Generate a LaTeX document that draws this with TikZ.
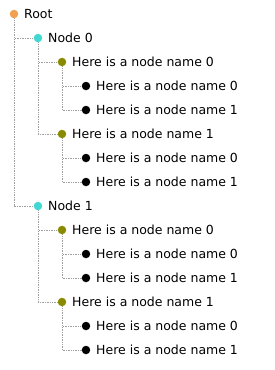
\documentclass[tikz,border=0pt]{standalone}
\usepackage{fontspec}
\setmainfont{DejaVu Sans}
\usetikzlibrary{positioning}
\definecolor{rootcol}{HTML}{F0A050}
\definecolor{nodecol}{HTML}{40D8D0}
\definecolor{subcol}{HTML}{8A8A00}
\tikzset{
    dot/.style={circle, inner sep=0pt, minimum size=8.5pt},
    rootdot/.style={dot, fill=rootcol},
    nodedot/.style={dot, fill=nodecol},
    subdot/.style={dot, fill=subcol},
    leafdot/.style={dot, fill=black},
    txt/.style={anchor=base west, inner sep=0pt, font=\fontsize{12.5}{14}\selectfont, text=black},
    link/.style={gray!75, densely dotted, line width=0.7pt}
}
\begin{document}
\begin{tikzpicture}[node distance = 24pt and 24pt, on grid]
    \useasboundingbox (0,0) rectangle (275pt,-370pt);
    % Place dots
    \node [rootdot] (root) at (14pt,-14pt) {};
    \node [nodedot, below right=of root] (n0) {};
    \node [subdot, below right=of n0] (n00) {};
    \node [leafdot, below right=of n00] (n000) {};
    \node [leafdot, below=of n000] (n001) {};
    \node [subdot, below left=of n001] (n01) {};
    \node [leafdot, below right=of n01] (n010) {};
    \node [leafdot, below=of n010] (n011) {};
    \node [nodedot, below left=24pt and 48pt of n011] (n1) {};
    \node [subdot, below right=of n1] (n10) {};
    \node [leafdot, below right=of n10] (n100) {};
    \node [leafdot, below=of n100] (n101) {};
    \node [subdot, below left=of n101] (n11) {};
    \node [leafdot, below right=of n11] (n110) {};
    \node [leafdot, below=of n110] (n111) {};

    % Place labels
    \node [txt] (root-t) at ([shift={(10pt,-4.5pt)}]root) {Root};
    \node [txt] (n0-t) at ([shift={(10pt,-4.5pt)}]n0) {Node 0};
    \node [txt] (n00-t) at ([shift={(10pt,-4.5pt)}]n00) {Here is a node name 0};
    \node [txt] (n000-t) at ([shift={(10pt,-4.5pt)}]n000) {Here is a node name 0};
    \node [txt] (n001-t) at ([shift={(10pt,-4.5pt)}]n001) {Here is a node name 1};
    \node [txt] (n01-t) at ([shift={(10pt,-4.5pt)}]n01) {Here is a node name 1};
    \node [txt] (n010-t) at ([shift={(10pt,-4.5pt)}]n010) {Here is a node name 0};
    \node [txt] (n011-t) at ([shift={(10pt,-4.5pt)}]n011) {Here is a node name 1};
    \node [txt] (n1-t) at ([shift={(10pt,-4.5pt)}]n1) {Node 1};
    \node [txt] (n10-t) at ([shift={(10pt,-4.5pt)}]n10) {Here is a node name 0};
    \node [txt] (n100-t) at ([shift={(10pt,-4.5pt)}]n100) {Here is a node name 0};
    \node [txt] (n101-t) at ([shift={(10pt,-4.5pt)}]n101) {Here is a node name 1};
    \node [txt] (n11-t) at ([shift={(10pt,-4.5pt)}]n11) {Here is a node name 1};
    \node [txt] (n110-t) at ([shift={(10pt,-4.5pt)}]n110) {Here is a node name 0};
    \node [txt] (n111-t) at ([shift={(10pt,-4.5pt)}]n111) {Here is a node name 1};

    % Draw edges
    \draw [link] (root) |- (n0);
    \draw [link] (root) |- (n1);
    \draw [link] (n0) |- (n00);
    \draw [link] (n0) |- (n01);
    \draw [link] (n00) |- (n000);
    \draw [link] (n00) |- (n001);
    \draw [link] (n01) |- (n010);
    \draw [link] (n01) |- (n011);
    \draw [link] (n1) |- (n10);
    \draw [link] (n1) |- (n11);
    \draw [link] (n10) |- (n100);
    \draw [link] (n10) |- (n101);
    \draw [link] (n11) |- (n110);
    \draw [link] (n11) |- (n111);
\end{tikzpicture}
\end{document}
